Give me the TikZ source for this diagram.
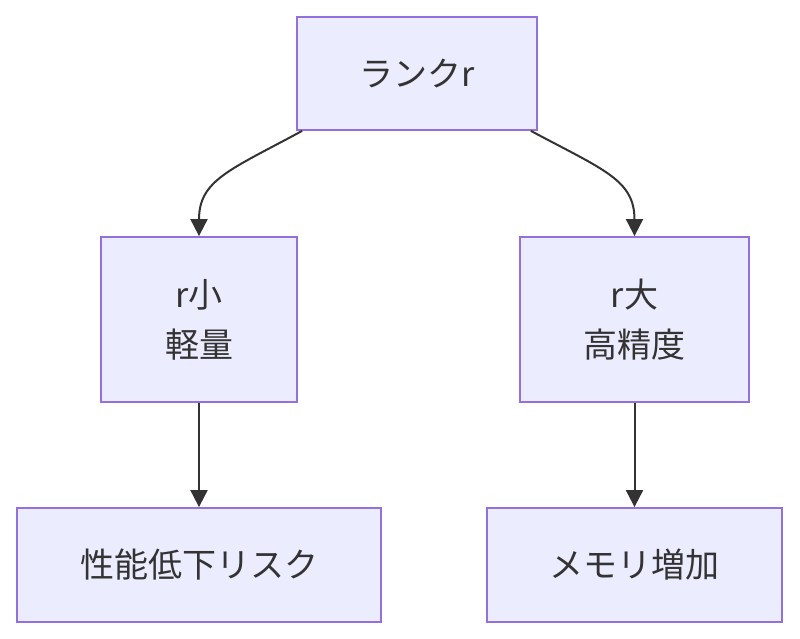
\documentclass[tikz,border=0pt]{standalone}
\usepackage{fontspec}
\setmainfont{Noto Sans CJK JP}
\usetikzlibrary{arrows.meta,calc}
\definecolor{boxfill}{HTML}{ECECFF}
\definecolor{boxline}{HTML}{9370DB}
\definecolor{txt}{HTML}{333333}
\tikzset{
  box/.style={draw=boxline, fill=boxfill, line width=1.8pt, text=txt,
    font=\fontsize{34}{50}\selectfont, align=center, inner sep=0pt},
  conn/.style={draw=txt, line width=2pt, -{Triangle[length=17pt,width=17pt]}}
}
\begin{document}
\begin{tikzpicture}[x=1pt,y=-1pt]
\useasboundingbox (0,0) rectangle (800,639);
\node[box, minimum width=240pt, minimum height=113pt] (top) at (417,73.5) {ランクr};
\node[box, minimum width=196pt, minimum height=165pt] (l) at (199,319.5) {r小\\軽量};
\node[box, minimum width=229pt, minimum height=165pt] (r) at (634.5,319.5) {r大\\高精度};
\node[box, minimum width=364pt, minimum height=114pt] (bl) at (199,565) {性能低下リスク};
\node[box, minimum width=295pt, minimum height=114pt] (br) at (634.5,565) {メモリ増加};
\draw[conn] ($(top.south west)+(6,0)$) .. controls (230,170) and (199,180) .. (l.north);
\draw[conn] ($(top.south east)+(-7,0)$) .. controls (604,170) and (634.5,180) .. (r.north);
\draw[conn] (l.south) -- (bl.north);
\draw[conn] (r.south) -- (br.north);
\end{tikzpicture}
\end{document}
